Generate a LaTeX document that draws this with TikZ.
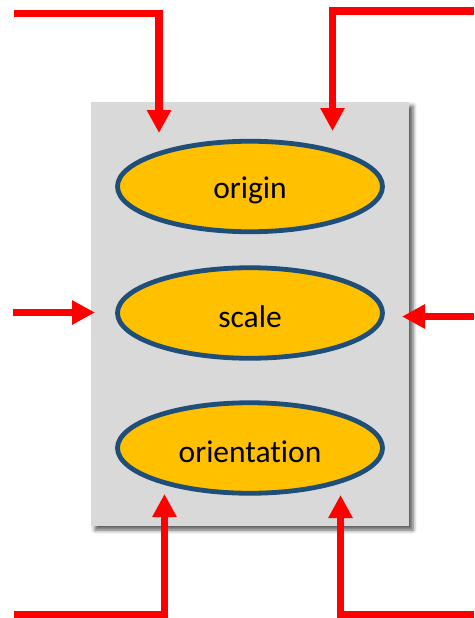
\documentclass[tikz,border=0pt]{standalone}
\usepackage{fontspec}
\setmainfont{Carlito}[Ligatures=NoCommon]
\usetikzlibrary{shapes.geometric,arrows.meta,shadows.blur}
\definecolor{boxgray}{HTML}{D9D9D9}
\definecolor{ellfill}{HTML}{FFC000}
\definecolor{ellborder}{HTML}{1F4E79}
\definecolor{arrred}{HTML}{FF0000}
\newcommand{\lowtext}[1]{\raisebox{-4pt}[\height][\depth]{#1}}
\tikzset{
  panel/.style={rectangle, fill=boxgray, draw=none, minimum width=318pt, minimum height=424pt, inner sep=0pt,
    blur shadow={shadow xshift=4pt, shadow yshift=-4pt, shadow blur radius=4pt, shadow opacity=65}},
  item/.style={ellipse, fill=ellfill, draw=ellborder, line width=4.8pt, minimum width=265pt, minimum height=90.5pt,
    inner sep=0pt, font=\fontsize{31.5}{37}\selectfont, text=black},
  redarrow/.style={draw=arrred, line width=7.5pt, -{Triangle[width=23pt,length=23pt]}}
}
\begin{document}
\begin{tikzpicture}[x=1pt,y=-1pt]
\useasboundingbox (0,0) rectangle (474,618);
\node[panel] (box) at (250,314) {};
\node[item] (o) at (250,186.5) {\lowtext{origin}};
\node[item] (s) at (250,313) {\lowtext{scale}};
\node[item] (r) at (250,448) {\lowtext{orientation}};
% free ends and tips
\coordinate (tls) at (14,13.5);
\coordinate (tlc) at (159,13.5);
\coordinate (tlt) at (159,133);
\coordinate (trs) at (474,11);
\coordinate (trc) at (332.5,11);
\coordinate (trt) at (332.5,131);
\coordinate (mls) at (13,312.5);
\coordinate (mlt) at (95,312.5);
\coordinate (mrs) at (474,316.5);
\coordinate (mrt) at (402,316.5);
\coordinate (bls) at (14,615);
\coordinate (blc) at (164.5,615);
\coordinate (blt) at (164.5,494);
\coordinate (brs) at (474,615);
\coordinate (brc) at (340.5,615);
\coordinate (brt) at (340.5,495);
\draw[redarrow] (tls) -- (tlc) -- (tlt);
\draw[redarrow] (trs) -- (trc) -- (trt);
\draw[redarrow] (mls) -- (mlt);
\draw[redarrow] (mrs) -- (mrt);
\draw[redarrow] (bls) -- (blc) -- (blt);
\draw[redarrow] (brs) -- (brc) -- (brt);
\end{tikzpicture}
\end{document}
